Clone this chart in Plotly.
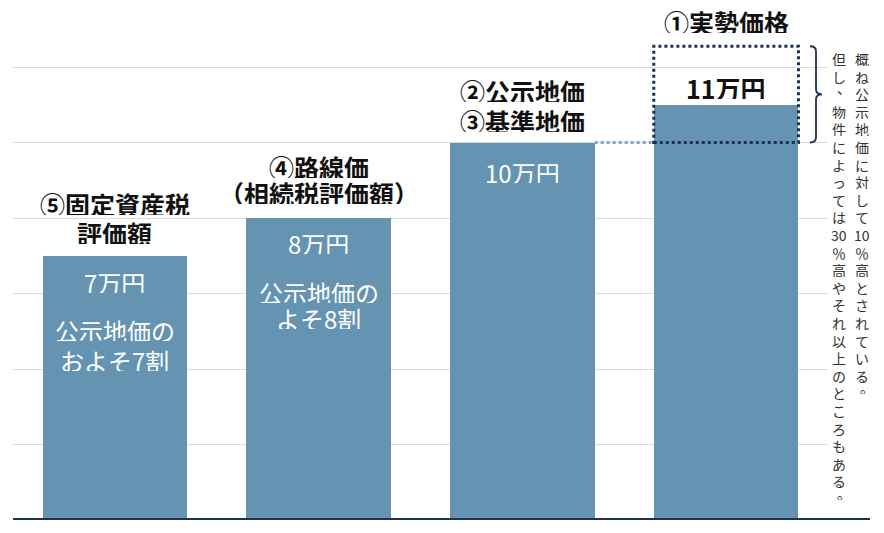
import plotly.graph_objects as go

# bar data (万円)
categories = ["固定資産税評価額", "路線価", "公示地価・基準地価", "実勢価格"]
values = [7, 8, 10, 11]
box_top = 12.55  # upper end of the dotted range above 実勢価格

# labels above bars
top_labels = [
    ["⑤固定資産税", "評価額"],
    ["④路線価", "（相続税評価額）"],
    ["②公示地価", "③基準地価"],
    ["①実勢価格"],
]
# labels inside bars
price_labels = ["7万円", "8万円", "10万円", "11万円"]
ratio_labels = [["公示地価の", "およそ7割"], ["公示地価の", "よそ8割"], [], []]

# vertical note, one cell per entry
note_right = ["概", "ね", "公", "示", "地", "価", "に", "対", "し", "て", "10", "％",
              "高", "と", "さ", "れ", "て", "い", "る", "。"]
note_left = ["但", "し", "、", "物", "件", "に", "よ", "っ", "て", "は", "30", "％", "高",
             "や", "そ", "れ", "以", "上", "の", "と", "こ", "ろ", "も", "あ", "る", "。"]

# page body has an 8px margin, so the figure is laid out 8px in from the corner
OFF = 8
W, H = 884 - OFF, 533 - OFF
L, R, T, B = 5, 56, 0, 13
PX_PER_UNIT = 37.75
BAR_W = 0.71
BAR_COLOR = "#6594b2"
NAVY = "#1c3157"
FONT = "Noto Sans CJK JP"

pw = W - L - R
ph = H - T - B
YMAX = ph / PX_PER_UNIT


def u(px):
    # pixels -> y units
    return px / PX_PER_UNIT


def px_x(px):
    # page pixel -> x data
    return (px - OFF - L) / pw * 4 - 0.5


def px_paper(px):
    return (px - OFF - L) / pw


def px_y(py):
    return (H + OFF - B - py) / PX_PER_UNIT


xs = list(range(len(values)))

fig = go.Figure(go.Bar(
    x=xs, y=values, width=BAR_W, marker=dict(color=BAR_COLOR, line=dict(width=0)),
    hoverinfo="skip",
))

ann = []
lab_font = dict(family=FONT, size=25, color="#111111", weight="bold")
in_font = dict(family=FONT, size=24, color="white")
TXT_H = 22  # tight text boxes, lines sit closer than the default line height

# pixel offsets of label lines above the bar tops
top_off = [[52, 23], [51, 25], [52, 22], [83]]
for i, lines in enumerate(top_labels):
    for j, t in enumerate(lines):
        ann.append(dict(x=i, y=values[i] + u(top_off[i][j]), text=t, showarrow=False,
                        font=lab_font, xanchor="center", yanchor="middle",
                        height=TXT_H, borderpad=0))

# pixel offsets of text lines below the bar tops
in_off = [[26, 74, 104], [25, 74, 100], [29], [-17]]
for i, t in enumerate(price_labels):
    f = lab_font if i == 3 else in_font
    ann.append(dict(x=i, y=values[i] - u(in_off[i][0]), text=t, showarrow=False,
                    font=f, xanchor="center", yanchor="middle", height=TXT_H, borderpad=0))
    for j, t2 in enumerate(ratio_labels[i]):
        ann.append(dict(x=i, y=values[i] - u(in_off[i][j + 1]), text=t2, showarrow=False,
                        font=in_font, xanchor="center", yanchor="middle",
                        height=TXT_H, borderpad=0))

# vertical note (tategaki), each cell placed on its own
note_font = dict(family=FONT, size=14, color="#333333")
PITCH = 17.6
for chars, cx in [(note_right, 862), (note_left, 839)]:
    for k, ch in enumerate(chars):
        dx, dy = (5, -6) if ch in "、。" else (0, 0)
        ann.append(dict(xref="paper", yref="y", x=px_paper(cx + dx),
                        y=px_y(59 + k * PITCH + dy), text=ch, showarrow=False,
                        font=note_font, xanchor="center", yanchor="middle",
                        height=14, borderpad=0))

shapes = []
# dotted range box on 実勢価格
shapes.append(dict(type="rect", xref="x", yref="y", x0=3 - BAR_W / 2, x1=3 + BAR_W / 2,
                   y0=values[2], y1=box_top, line=dict(color=NAVY, width=3, dash="dot"),
                   layer="above"))
# connector from 公示地価 bar to 実勢価格 bar
shapes.append(dict(type="line", xref="x", yref="y", x0=2 + BAR_W / 2, x1=3 - BAR_W / 2,
                   y0=values[2], y1=values[2], line=dict(color="#7ea9c8", width=3, dash="dot")))
# brace
bx0, bx1, bx2 = px_x(810), px_x(816), px_x(822)
yt, yb = box_top, values[2]
ym = (yt + yb) / 2
d = u(5)
brace = (f"M {bx0},{yt} Q {bx1},{yt} {bx1},{yt - d} L {bx1},{ym + d} "
         f"Q {bx1},{ym} {bx2},{ym} Q {bx1},{ym} {bx1},{ym - d} "
         f"L {bx1},{yb + d} Q {bx1},{yb} {bx0},{yb}")
shapes.append(dict(type="path", xref="x", yref="y", path=brace,
                   line=dict(color=NAVY, width=1.8)))
# baseline
shapes.append(dict(type="line", xref="paper", yref="y", x0=0, x1=px_paper(870),
                   y0=0, y1=0, line=dict(color=NAVY, width=4), layer="above"))

fig.update_layout(
    width=W, height=H,
    margin=dict(l=L, r=R, t=T, b=B),
    paper_bgcolor="white", plot_bgcolor="white",
    showlegend=False,
    bargap=0,
    xaxis=dict(range=[-0.5, 3.5], showticklabels=False, showgrid=False, zeroline=False,
               fixedrange=True),
    yaxis=dict(range=[0, YMAX], tickvals=[2, 4, 6, 8, 10, 12], showticklabels=False,
               showgrid=True, gridcolor="#dadada", gridwidth=1, zeroline=False,
               fixedrange=True),
    annotations=ann,
    shapes=shapes,
    font=dict(family=FONT),
)

fig.write_html("out.html")
